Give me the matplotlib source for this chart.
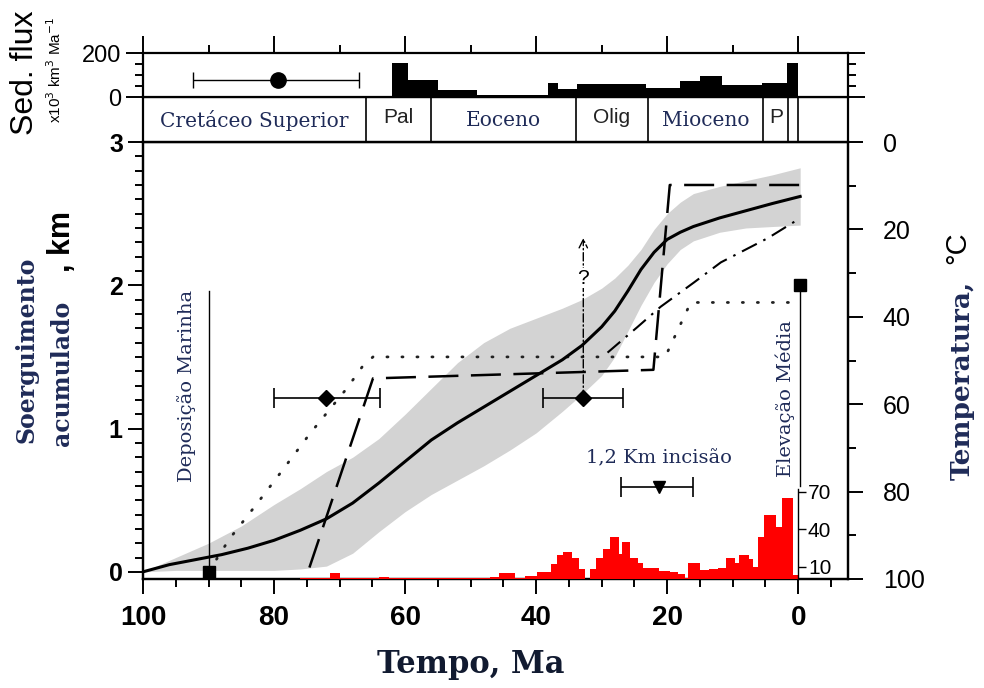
import matplotlib
matplotlib.use("Agg")
import matplotlib.pyplot as plt
import numpy as np
from matplotlib.ticker import MultipleLocator

# ---- data (time in Ma, uplift in km) ----
best_age = [100, 96, 92, 88, 84, 80, 76, 72, 68, 64, 60, 56, 52, 48, 44, 40, 36, 33, 30,
            28, 26, 24, 22, 20, 18, 16, 14, 12, 8, 4, -0.3]
best_km = [0.0, 0.05, 0.085, 0.12, 0.165, 0.22, 0.29, 0.37, 0.48, 0.62, 0.77, 0.92, 1.04,
           1.15, 1.26, 1.37, 1.48, 1.58, 1.71, 1.82, 1.96, 2.11, 2.23, 2.32, 2.37, 2.41,
           2.44, 2.47, 2.52, 2.57, 2.62]

band_age = [100, 95, 90, 85, 80, 76, 72, 68, 64, 60, 56, 52, 48, 44, 40, 36, 33, 30,
            28, 26, 24, 22, 20, 18, 16, 12, 8, 4, -0.3]
band_hi = [0.0, 0.10, 0.20, 0.32, 0.47, 0.58, 0.70, 0.80, 0.93, 1.10, 1.28, 1.46, 1.60,
           1.70, 1.77, 1.84, 1.90, 1.98, 2.05, 2.14, 2.25, 2.39, 2.50, 2.58, 2.64, 2.69,
           2.73, 2.77, 2.82]
band_lo = [0.0, 0.01, 0.01, 0.01, 0.01, 0.02, 0.04, 0.13, 0.28, 0.42, 0.54, 0.64, 0.74,
           0.85, 0.97, 1.12, 1.24, 1.37, 1.50, 1.68, 1.86, 2.02, 2.15, 2.25, 2.31, 2.37,
           2.40, 2.41, 2.42]

dash_age = [74.6, 64.9, 22.1, 19.6, -0.6]
dash_km = [0.03, 1.35, 1.41, 2.70, 2.70]

dot_age = [90.0, 86.8, 82.7, 78.7, 74.6, 68.9, 66.4, 64.9, 20.3, 16.4, 0.0]
dot_km = [0.0, 0.23, 0.47, 0.71, 0.96, 1.28, 1.44, 1.50, 1.50, 1.88, 1.88]

dashdot_age = [29.1, 24.5, 21.0, 15.9, 11.8, 4.6, 0.0]
dashdot_km = [1.53, 1.71, 1.85, 2.02, 2.16, 2.33, 2.46]

# thermochronology ages (diamonds) with error bars
diam_age = [72.0, 32.8]
diam_km = [1.21, 1.21]
diam_err_lo = [8.1, 6.1]   # towards older
diam_err_hi = [8.0, 6.2]   # towards younger

incision_age, incision_km, incision_err = 21.3, 0.59, [[5.3], [5.7]]

# age histogram (counts), bin edges in Ma
hist_edges = [76.0, 73.0, 71.4, 70.0, 64.0, 62.4, 47.0, 45.7, 43.2, 41.7, 39.8, 37.8, 36.8,
              35.9, 34.5, 33.4, 32.6, 31.8, 30.8, 29.8, 28.8, 27.3, 26.9, 25.6, 24.5, 23.7,
              23.0, 21.2, 19.6, 18.3, 17.35, 16.84, 15.05, 13.67, 12.24, 11.07, 9.6, 9.03,
              7.55, 6.89, 6.12, 5.26, 3.42, 2.4, 0.87, 0.0]
hist_counts = [0.8, 0.8, 4.5, 0.8, 2.0, 0.8, 2.0, 4.5, 1.0, 2.7, 5.9, 11.8, 19.3, 21.4, 16.6,
               7.8, 0.0, 7.8, 16.6, 24.0, 33.5, 20.0, 30.0, 17.0, 12.6, 8.6, 8.6, 6.7, 6.0,
               4.0, 0.5, 12.6, 7.5, 8.0, 9.0, 17.0, 13.0, 19.0, 16.0, 10.0, 33.5, 51.0,
               42.0, 65.0, 3.0]

# sediment flux (x10^3 km^3/Ma)
flux_edges = [62.0, 59.5, 55.0, 49.0, 38.2, 36.6, 33.7, 23.2, 18.0, 15.0, 11.6, 5.5, 1.7, 0.0]
flux_vals = [155, 77, 30, 11, 65, 35, 59, 42, 74, 95, 55, 62, 153]
flux_pt_age, flux_pt_val, flux_pt_err = 79.4, 77, [[12.4], [13.0]]

# geological periods
period_edges = [100, 66, 56, 33.9, 23, 5.3, 1.5, 0]
period_names = ["Cretáceo Superior", "Pal", "Eoceno", "Olig", "Mioceno", "P", ""]
period_serif = [True, False, True, False, True, False, False]

NAVY = "#1f2b58"
SANS = "Liberation Sans"
SERIF = "DejaVu Serif"
XLIM = (100, -7.6)

plt.rcParams["font.family"] = SANS
fig = plt.figure(figsize=(9.84, 6.88), dpi=100)


def fx(px):
    return px / 984.0


def fy(py):
    return 1 - py / 688.0


ax = fig.add_axes([fx(143), fy(579), fx(848) - fx(143), fy(142) - fy(579)])
ax_g = fig.add_axes([fx(143), fy(142), fx(848) - fx(143), fy(97) - fy(142)])
ax_s = fig.add_axes([fx(143), fy(97), fx(848) - fx(143), fy(53) - fy(97)])

for a in (ax, ax_g, ax_s):
    a.set_xlim(*XLIM)
    for sp in a.spines.values():
        sp.set_linewidth(1.6)

# ---- main panel ----
ax.fill_between(band_age, band_lo, band_hi, color="#d3d3d3", lw=0, zorder=1)
ax.plot(best_age, best_km, color="black", lw=2.2, zorder=4)
ax.plot(dash_age, dash_km, color="black", lw=1.8, dashes=(12, 5), zorder=3)
ax.plot(dot_age, dot_km, color="#222222", lw=2.0, dashes=(0.4, 5.0),
        dash_capstyle="round", zorder=3)
ax.plot(dashdot_age, dashdot_km, color="black", lw=1.5, dashes=(8, 3.5, 1.2, 3.5), zorder=3)

ax.errorbar(diam_age, diam_km, xerr=[diam_err_lo, diam_err_hi], fmt="D", color="black",
            ms=8, lw=1.2, capsize=7, capthick=1.2, zorder=6)
ax.errorbar([incision_age], [incision_km], xerr=incision_err, fmt="v", color="black",
            ms=8, lw=1.2, capsize=7, capthick=1.2, zorder=6)
ax.text(incision_age, incision_km + 0.2, "1,2 Km incisão", family=SERIF, color=NAVY,
        fontsize=14, ha="center", va="center")

# question mark arrow above the younger diamond
ax.annotate("", xy=(diam_age[1], 2.33), xytext=(diam_age[1], diam_km[1]),
            arrowprops=dict(arrowstyle="->", lw=1.0, linestyle=(0, (6, 2, 1, 2)),
                            mutation_scale=15, shrinkA=0, shrinkB=0), zorder=5)
ax.text(diam_age[1], 2.05, "?", fontsize=15, ha="center", va="center",
        bbox=dict(fc="white", ec="none", pad=0.5), zorder=6)

# marine deposition & mean elevation markers
ax.plot([90, 90], [0, 1.96], color="black", lw=1.0, zorder=5)
ax.plot([90], [0], "s", color="black", ms=9, zorder=6)
ax.text(93.4, 1.3, "Deposição Marinha", rotation=90, family=SERIF, color=NAVY,
        fontsize=14, ha="center", va="center")
ax.plot([-0.3, -0.3], [0.6, 2.0], color="black", lw=1.0, zorder=5)
ax.plot([-0.3], [2.0], "s", color="black", ms=9, zorder=6)
ax.text(2.0, 1.21, "Elevação Média", rotation=90, family=SERIF, color=NAVY,
        fontsize=14, ha="center", va="center")

ax.set_ylim(-0.05, 3)
ax.yaxis.set_major_locator(MultipleLocator(1))
ax.yaxis.set_minor_locator(MultipleLocator(0.1))
ax.xaxis.set_major_locator(MultipleLocator(20))
ax.xaxis.set_minor_locator(MultipleLocator(5))
ax.tick_params(which="both", direction="out", width=1.4, right=False, top=False)
ax.tick_params(which="major", length=11)
ax.tick_params(which="minor", length=6)
ax.tick_params(axis="x", labelsize=20, pad=8)
ax.tick_params(axis="y", labelsize=18)
for lab in ax.get_xticklabels() + ax.get_yticklabels():
    lab.set_fontweight("bold")

# temperature axis
ax_t = ax.twinx()
ax_t.set_ylim(100, 0)
ax_t.yaxis.set_major_locator(MultipleLocator(20))
ax_t.yaxis.set_minor_locator(MultipleLocator(10))
ax_t.tick_params(which="both", direction="out", width=1.4, labelsize=18, pad=14)
ax_t.tick_params(which="major", length=11)
ax_t.tick_params(which="minor", length=6)
for sp in ax_t.spines.values():
    sp.set_linewidth(1.6)

# age histogram on its own scale
ax_h = ax.twinx()
ax_h.set_ylim(0, 350)
hx = np.repeat(hist_edges, 2)[1:-1]
hy = np.repeat(hist_counts, 2)
ax_h.fill_between(hx, 0, hy, color="#ff0000", lw=0, zorder=2)
for name in ("top", "bottom", "left"):
    ax_h.spines[name].set_visible(False)
ax_h.spines["right"].set_position(("data", 0))
ax_h.spines["right"].set_bounds(0, 72)
ax_h.spines["right"].set_linewidth(1.0)
ax_h.set_yticks([10, 40, 70])
ax_h.tick_params(direction="out", length=6, width=1.0, labelsize=15, pad=1)

# ---- geological time bar ----
ax_g.set_ylim(0, 1)
ax_g.set_xticks([])
ax_g.set_yticks([])
for edge in period_edges[1:]:
    ax_g.axvline(edge, color="black", lw=1.2)
for i, name in enumerate(period_names):
    mid = 0.5 * (period_edges[i] + period_edges[i + 1])
    if period_serif[i]:
        ax_g.text(mid, 0.47, name, family=SERIF, color=NAVY, fontsize=14.5,
                  ha="center", va="center")
    else:
        ax_g.text(mid, 0.54, name, color="#222222", fontsize=15,
                  ha="center", va="center")

# ---- sediment flux panel ----
ax_s.set_ylim(0, 200)
sx = np.repeat(flux_edges, 2)[1:-1]
sy = np.repeat(flux_vals, 2)
ax_s.fill_between(sx, 0, sy, color="black", lw=0)
ax_s.errorbar([flux_pt_age], [flux_pt_val], xerr=flux_pt_err, fmt="o", color="black",
              ms=11, lw=1.0, capsize=6, capthick=1.0)
ax_s.set_yticks([0, 200])
ax_s.yaxis.set_minor_locator(MultipleLocator(50))
ax_s.xaxis.set_major_locator(MultipleLocator(20))
ax_s.xaxis.set_minor_locator(MultipleLocator(10))
ax_s.tick_params(which="both", direction="out", width=1.4, top=True, bottom=False,
                 labelbottom=False, right=True, labelsize=17)
ax_s.tick_params(which="major", length=12)
ax_s.tick_params(which="minor", length=6)

# ---- axis titles ----
fig.text(fx(25), fy(73), "Sed. flux", rotation=90, fontsize=23, ha="center", va="center")
fig.text(fx(55), fy(70), r"x10$^3$ km$^3$ Ma$^{-1}$", rotation=90, fontsize=11,
         ha="center", va="center")
fig.text(fx(27), fy(350), "Soerguimento", rotation=90, family=SERIF, fontweight="bold",
         color=NAVY, fontsize=17, ha="center", va="center")
fig.text(fx(62), fy(373), "acumulado", rotation=90, family=SERIF, fontweight="bold",
         color=NAVY, fontsize=17, ha="center", va="center")
fig.text(fx(62), fy(242), ", km", rotation=90, fontweight="bold", fontsize=22,
         ha="center", va="center")
fig.text(fx(962), fy(380), "Temperatura,", rotation=90, family=SERIF, fontweight="bold",
         color=NAVY, fontsize=19, ha="center", va="center")
fig.text(fx(957), fy(248), "°C", rotation=90, fontsize=21, ha="center", va="center")
fig.text(fx(471), fy(665), "Tempo, Ma", family=SERIF, fontweight="bold", color="#111a30",
         fontsize=22, ha="center", va="center")

fig.savefig("out.png", dpi=100)
